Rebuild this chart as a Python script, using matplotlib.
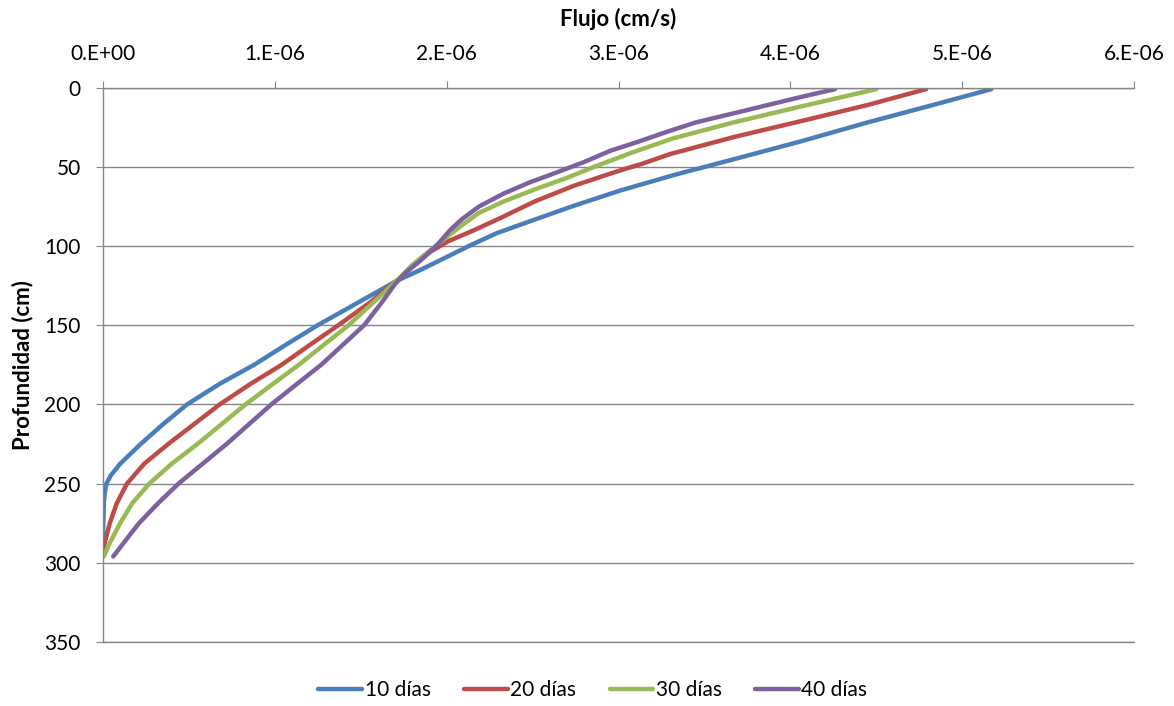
import matplotlib
matplotlib.use('Agg')
import matplotlib.pyplot as plt
from matplotlib.ticker import FuncFormatter

# profundidad (cm) y flujo (x1e-6 cm/s)
depth_10 = [1, 11, 22, 34, 45, 55, 65, 75, 85, 92, 100, 107, 115, 122, 136, 150, 162, 175,
            187, 200, 212.5, 225, 237.5, 245, 250, 256, 262.5, 275, 290]
flux_10 = [5.17, 4.83, 4.45, 4.06, 3.68, 3.33, 3.01, 2.73, 2.47, 2.29, 2.13, 2.00, 1.85, 1.71,
           1.48, 1.25, 1.07, 0.88, 0.68, 0.49, 0.35, 0.22, 0.10, 0.045, 0.02, 0.01, 0.005, 0.002, 0.0]

depth_20 = [1, 11, 21, 31, 42, 48, 53, 62, 72, 82, 90, 97, 104, 112, 122, 136, 150, 162, 175,
            187, 200, 212.5, 225, 237.5, 250, 262.5, 275, 287.5, 292]
flux_20 = [4.79, 4.45, 4.07, 3.68, 3.30, 3.14, 2.99, 2.74, 2.51, 2.32, 2.16, 2.01, 1.90, 1.81,
           1.71, 1.55, 1.37, 1.21, 1.04, 0.86, 0.68, 0.53, 0.38, 0.24, 0.14, 0.08, 0.04, 0.01, 0.0]

depth_30 = [1, 12, 22, 32, 41, 50, 57, 64, 72, 79, 86, 91, 97, 104, 112, 122, 136, 150, 162,
            175, 187, 200, 212.5, 225, 237.5, 250, 262.5, 275, 287.5, 296]
flux_30 = [4.50, 4.06, 3.67, 3.32, 3.08, 2.86, 2.70, 2.52, 2.33, 2.19, 2.10, 2.04, 1.97, 1.89,
           1.80, 1.71, 1.57, 1.43, 1.29, 1.14, 0.99, 0.83, 0.69, 0.55, 0.40, 0.27, 0.17, 0.10,
           0.04, 0.005]

depth_40 = [1, 6, 11, 16, 22, 28, 34, 40, 47, 54, 60, 67, 75, 83, 90, 100, 109, 117, 124, 136,
            150, 162, 175, 187, 200, 212.5, 225, 237.5, 250, 262.5, 275, 287.5, 296]
flux_40 = [4.26, 4.06, 3.87, 3.68, 3.45, 3.28, 3.12, 2.95, 2.80, 2.63, 2.48, 2.33, 2.19, 2.09,
           2.02, 1.94, 1.85, 1.76, 1.70, 1.62, 1.52, 1.40, 1.27, 1.13, 0.98, 0.85, 0.72, 0.58,
           0.44, 0.32, 0.21, 0.12, 0.06]

labels = ["10 días", "20 días", "30 días", "40 días"]
colors = ["#4A7EBB", "#BE4B48", "#98B954", "#7D60A0"]

plt.rcParams['font.family'] = ['Lato', 'DejaVu Sans']

fig = plt.figure(figsize=(11.74, 7.06), dpi=100)
ax = fig.add_axes([0.0877, 0.0907, 0.8783, 0.7853])

series = [(depth_10, flux_10), (depth_20, flux_20), (depth_30, flux_30), (depth_40, flux_40)]
for (d, f), lab, col in zip(series, labels, colors):
    ax.plot([v * 1e-6 for v in f], d, color=col, lw=3.2, label=lab,
            solid_capstyle='round', solid_joinstyle='round')

grid_col = "#868686"
ax.set_xlim(0, 6e-6)
ax.set_ylim(350, 0)
ax.set_xticks([i * 1e-6 for i in range(7)])
ax.set_yticks(range(0, 351, 50))

def fmt(v, pos):
    if abs(v) < 1e-12:
        return "0.E+00"
    return "%d.E-06" % round(v / 1e-6)

ax.xaxis.set_major_formatter(FuncFormatter(fmt))
ax.xaxis.tick_top()
ax.xaxis.set_label_position('top')
ax.tick_params(axis='both', direction='out', length=5, color=grid_col, labelsize=15)
ax.tick_params(axis='x', pad=12)
ax.tick_params(axis='y', pad=11)

ax.yaxis.grid(True, color=grid_col, lw=1)
ax.set_axisbelow(True)
ax.spines['right'].set_visible(False)
for s in ['left', 'top', 'bottom']:
    ax.spines[s].set_color(grid_col)
    ax.spines[s].set_linewidth(1)

ax.set_xlabel("Flujo (cm/s)", fontsize=16, fontweight='bold', labelpad=13)
ax.set_ylabel("Profundidad (cm)", fontsize=16, fontweight='bold', labelpad=8)

fig.legend(loc='lower center', bbox_to_anchor=(0.505, -0.018), ncol=4, frameon=False, fontsize=15,
           handlelength=2.1, handletextpad=0.12, columnspacing=1.6)

fig.savefig("out.png", dpi=100)
